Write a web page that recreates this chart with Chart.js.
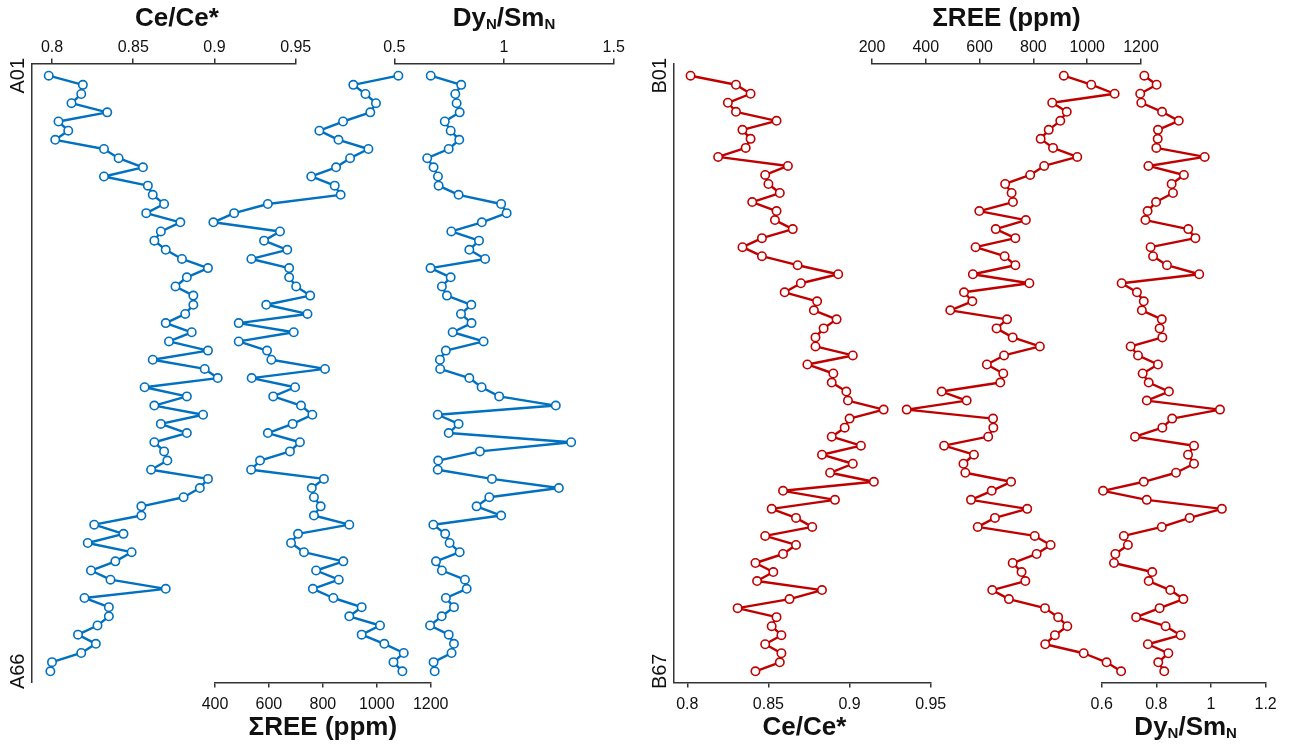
<!DOCTYPE html>
<html><head><meta charset="utf-8">
<script src="https://cdn.jsdelivr.net/npm/chart.js@4/dist/chart.umd.min.js"></script>
<style>
html,body{margin:0;padding:0;background:#fff;}
#wrap{position:relative;width:1296px;height:745px;overflow:hidden;background:#fff;}
#wrap canvas{position:absolute;left:0;top:0;}
</style></head><body><div id="wrap">
<canvas id="cA1" width="1296" height="745"></canvas>
<canvas id="cA2" width="1296" height="745"></canvas>
<canvas id="cA3" width="1296" height="745"></canvas>
<canvas id="cB1" width="1296" height="745"></canvas>
<canvas id="cB2" width="1296" height="745"></canvas>
<canvas id="cB3" width="1296" height="745"></canvas>
</div>
<script>
// ---------- data ----------
const samplesA = Array.from({length: 66}, (_, i) => 'A' + String(i + 1).padStart(2, '0'));
const samplesB = Array.from({length: 67}, (_, i) => 'B' + String(i + 1).padStart(2, '0'));

const ceA = [0.798,0.819,0.818,0.812,0.834,0.804,0.810,0.802,0.832,0.841,
  0.856,0.832,0.859,0.862,0.869,0.858,0.879,0.867,0.863,0.870,
  0.880,0.896,0.883,0.876,0.887,0.887,0.882,0.870,0.886,0.872,
  0.896,0.862,0.894,0.902,0.857,0.883,0.863,0.893,0.867,0.883,
  0.863,0.869,0.871,0.861,0.896,0.891,0.881,0.855,0.855,0.826,
  0.844,0.822,0.849,0.839,0.824,0.836,0.870,0.820,0.835,0.835,
  0.828,0.816,0.827,0.818,0.800,0.799];
const reeA = [1080,913,958,997,976,875,787,858,969,901,
  849,757,844,866,596,471,394,641,582,668,
  535,675,675,701,753,590,743,488,692,488,
  593,609,808,536,697,616,719,761,688,596,
  715,678,567,534,804,759,767,792,767,898,
  708,682,730,876,775,859,763,839,944,898,
  1012,944,1028,1100,1062,1095];
const dyA = [0.666,0.805,0.778,0.784,0.798,0.730,0.757,0.796,0.748,0.650,
  0.679,0.699,0.702,0.793,0.987,1.012,0.899,0.760,0.886,0.842,
  0.914,0.665,0.757,0.717,0.740,0.851,0.804,0.852,0.766,0.907,
  0.735,0.708,0.709,0.842,0.898,0.978,1.236,0.698,0.793,0.748,
  1.306,0.890,0.700,0.698,0.945,1.250,0.933,0.875,0.987,0.678,
  0.732,0.752,0.798,0.690,0.717,0.822,0.830,0.735,0.772,0.716,
  0.663,0.748,0.772,0.761,0.679,0.684];

const ceB = [0.802,0.830,0.839,0.825,0.830,0.855,0.834,0.839,0.836,0.819,
  0.862,0.848,0.850,0.857,0.840,0.855,0.854,0.865,0.846,0.834,
  0.846,0.868,0.893,0.870,0.860,0.880,0.878,0.892,0.884,0.879,
  0.879,0.902,0.874,0.890,0.889,0.898,0.899,0.921,0.900,0.897,
  0.889,0.907,0.883,0.902,0.888,0.915,0.859,0.891,0.852,0.867,
  0.877,0.848,0.867,0.859,0.842,0.853,0.843,0.883,0.863,0.831,
  0.855,0.852,0.858,0.848,0.858,0.857,0.842];
const reeB = [913,1015,1102,870,924,900,857,827,873,963,
  840,788,695,719,724,599,772,660,733,585,
  693,733,575,785,542,573,491,702,663,723,
  824,691,627,688,677,459,552,329,650,651,
  632,468,579,540,547,717,645,568,777,657,
  593,805,864,812,723,756,770,647,709,843,
  892,926,880,844,987,1072,1126];
const dyB = [0.756,0.801,0.741,0.745,0.821,0.882,0.806,0.805,0.800,0.977,
  0.771,0.901,0.856,0.861,0.799,0.768,0.760,0.917,0.943,0.779,
  0.788,0.839,0.957,0.673,0.729,0.754,0.747,0.820,0.812,0.822,
  0.706,0.733,0.806,0.750,0.772,0.846,0.765,1.033,0.858,0.822,
  0.722,0.938,0.916,0.938,0.872,0.754,0.605,0.765,1.040,0.922,
  0.820,0.681,0.696,0.650,0.645,0.785,0.772,0.851,0.899,0.812,
  0.726,0.834,0.889,0.769,0.844,0.807,0.829];

// tick labels
const ceTicksA = [0.8, 0.85, 0.9, 0.95];
const reeTicksA = [400, 600, 800, 1000, 1200];
const dyTicksA = [0.5, 1, 1.5];
const ceTicksB = [0.8, 0.85, 0.9, 0.95];
const reeTicksB = [200, 400, 600, 800, 1000, 1200];
const dyTicksB = [0.6, 0.8, 1, 1.2];

// axis titles (segments; sub = subscript)
const ceTitle = [{t: 'Ce/Ce*'}];
const reeTitle = [{t: 'ΣREE (ppm)'}];
const dyTitle = [{t: 'Dy'}, {t: 'N', sub: true}, {t: '/Sm'}, {t: 'N', sub: true}];

// ---------- styling / layout ----------
const FONT = "'Liberation Sans', Arial, Helvetica, sans-serif";
const AX = '#333333';
const TXT = '#111111';
const BLUE = '#0070C0';
const RED = '#C00000';
const W = 1296, H = 745, TOP = 63.5, BOT = 682.5, YW = 32;
const TICK_FS = 16, TITLE_FS = 26, SUB_FS = 15, YLAB_FS = 20;

const axisTitlePlugin = {
  id: 'axisTitle',
  afterDraw(chart, args, opts) {
    const segs = chart.config._axisTitle;
    if (!segs) return;
    const s = chart.scales.x;
    const ctx = chart.ctx;
    const main = 'bold ' + TITLE_FS + 'px ' + FONT;
    const sub = 'bold ' + SUB_FS + 'px ' + FONT;
    ctx.save();
    const widths = segs.map(g => { ctx.font = g.sub ? sub : main; return ctx.measureText(g.t).width; });
    const total = widths.reduce((a, b) => a + b, 0);
    let x = (s.left + s.right) / 2 + (chart.config._titleDx || 0) - total / 2;
    const y = s.position === 'top' ? 19 : 728;
    ctx.fillStyle = TXT; ctx.textBaseline = 'middle'; ctx.textAlign = 'left';
    segs.forEach((g, i) => {
      ctx.font = g.sub ? sub : main;
      ctx.fillText(g.t, x, g.sub ? y + 6 : y);
      x += widths[i];
    });
    ctx.restore();
  }
};

function makeChart(id, cfg) {
  const top = cfg.xPos === 'top';
  const yAxisShown = !!cfg.yLabels;
  const xScale = {
    type: 'linear', position: cfg.xPos, min: cfg.xMin, max: cfg.xMax,
    afterBuildTicks: s => { s.ticks = cfg.ticks.map(v => ({value: v})); },
    afterFit: s => { s.height = top ? TOP : H - BOT; },
    grid: {display: true, drawOnChartArea: false, drawTicks: true, tickLength: 5, color: AX, lineWidth: 1.5},
    border: {display: true, color: AX, width: 1.5},
    ticks: {color: TXT, font: {family: FONT, size: TICK_FS}, padding: top ? 1 : 7, maxRotation: 0, autoSkip: false,
      callback: v => String(v)},
    title: {display: false}
  };
  const yScale = {
    type: 'linear', position: 'left', reverse: true, min: cfg.yMin, max: cfg.yMax,
    display: yAxisShown,
    grid: {display: false, drawTicks: false},
    border: {display: true, color: AX, width: 1.5},
    afterFit: s => { s.width = yAxisShown ? YW : 0; },
    afterBuildTicks: s => { if (yAxisShown) s.ticks = [{value: 1}, {value: cfg.yLabels.length}]; },
    ticks: {color: TXT, font: {family: FONT, size: YLAB_FS}, padding: -4, minRotation: 90, maxRotation: 90,
      crossAlign: 'center', autoSkip: false,
      callback: v => yAxisShown ? cfg.yLabels[Math.round(v) - 1] : ''}
  };
  const pad = {
    left: yAxisShown ? cfg.left - YW : cfg.left,
    right: W - cfg.right,
    top: top ? 0 : TOP,
    bottom: top ? H - BOT : 0
  };
  return new Chart(document.getElementById(id), {
    type: 'scatter',
    data: {datasets: [{
      data: cfg.values.map((v, i) => ({x: v, y: i + 1})),
      showLine: true, tension: 0, clip: false,
      borderColor: cfg.color, borderWidth: 2.4, borderJoinStyle: 'round', borderCapStyle: 'round',
      pointRadius: 4.2, pointBorderWidth: 1.6, pointBackgroundColor: '#ffffff', pointBorderColor: cfg.color,
      pointHoverRadius: 4.2
    }]},
    options: {
      responsive: false, animation: false, devicePixelRatio: 1,
      events: [],
      layout: {padding: pad},
      scales: {x: xScale, y: yScale},
      plugins: {legend: {display: false}, tooltip: {enabled: false}}
    },
    plugins: [{id: 'titleCfg', beforeInit(c) { c.config._axisTitle = cfg.title; c.config._titleDx = cfg.titleDx || 0; }}, axisTitlePlugin]
  });
}

// Panel A (left): rows A01..A66
const yMinA = -0.331, yMaxA = 67.222;
makeChart('cA1', {values: ceA, color: BLUE, xPos: 'top', left: 32, right: 295.7,
  xMin: 0.8 - 20 / 1624.7, xMax: 0.95, ticks: ceTicksA, title: ceTitle, titleDx: 13,
  yMin: yMinA, yMax: yMaxA, yLabels: samplesA});
makeChart('cA2', {values: reeA, color: BLUE, xPos: 'bottom', left: 215, right: 430.7,
  xMin: 400, xMax: 1200, ticks: reeTicksA, title: reeTitle, yMin: yMinA, yMax: yMaxA});
makeChart('cA3', {values: dyA, color: BLUE, xPos: 'top', left: 394.3, right: 613.7,
  xMin: 0.5, xMax: 1.5, ticks: dyTicksA, title: dyTitle, yMin: yMinA, yMax: yMaxA});

// Panel B (right): rows B01..B67
const yMinB = -0.352, yMaxB = 68.241;
makeChart('cB1', {values: ceB, color: RED, xPos: 'bottom', left: 674, right: 930.7,
  xMin: 0.8 - 13.3 / 1622.7, xMax: 0.95, ticks: ceTicksB, title: ceTitle, titleDx: 2,
  yMin: yMinB, yMax: yMaxB, yLabels: samplesB});
makeChart('cB2', {values: reeB, color: RED, xPos: 'top', left: 872, right: 1141,
  xMin: 200, xMax: 1200, ticks: reeTicksB, title: reeTitle, yMin: yMinB, yMax: yMaxB});
makeChart('cB3', {values: dyB, color: RED, xPos: 'bottom', left: 1101.7, right: 1265.6,
  xMin: 0.6, xMax: 1.2, ticks: dyTicksB, title: dyTitle, titleDx: 2, yMin: yMinB, yMax: yMaxB});
</script>
</body></html>
